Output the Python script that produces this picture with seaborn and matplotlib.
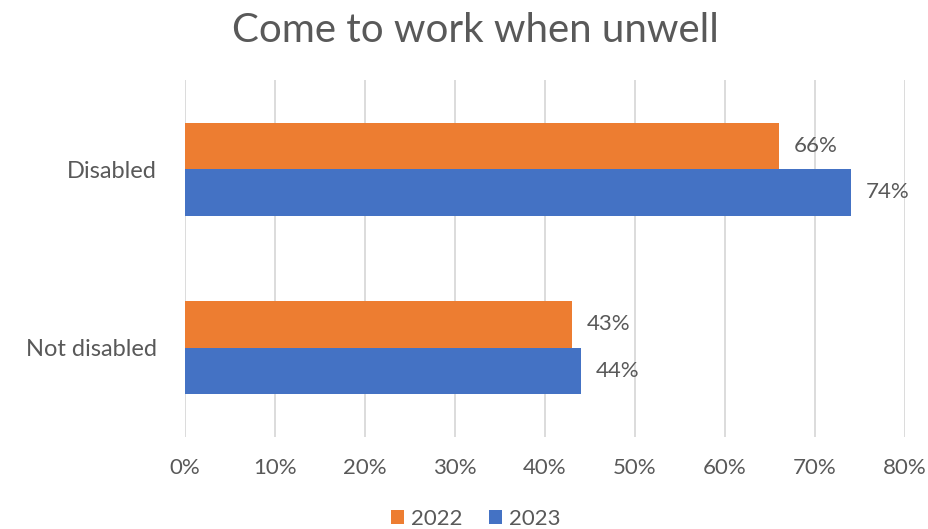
import matplotlib
matplotlib.use("Agg")
import matplotlib.pyplot as plt
import seaborn as sns
import pandas as pd

categories = ["Disabled", "Not disabled"]
years = ["2022", "2023"]
values_2022 = [66, 43]
values_2023 = [74, 44]
x_ticks = [0, 10, 20, 30, 40, 50, 60, 70, 80]

colors = {"2022": "#ED7D31", "2023": "#4472C4"}
text_color = "#595959"

df = pd.DataFrame({
    "category": categories * 2,
    "year": [years[0]] * len(categories) + [years[1]] * len(categories),
    "value": values_2022 + values_2023,
})

sns.set_theme(style="white")
plt.rcParams["font.family"] = ["Lato", "DejaVu Sans"]

fig = plt.figure(figsize=(9.29, 5.29), dpi=100)
ax = fig.add_axes([0.199, 0.174, 0.775, 0.675])

sns.barplot(data=df, y="category", x="value", hue="year", orient="h",
            palette=colors, width=0.52, ax=ax, saturation=1, legend=True,
            edgecolor="none", linewidth=0)

ax.set_xlim(0, 80)
ax.set_ylim(1.5, -0.5)
ax.set_xticks(x_ticks)
ax.set_xticklabels([f"{t}%" for t in x_ticks], color=text_color, fontsize=16)
ax.tick_params(axis="y", labelsize=17, labelcolor=text_color, length=0, pad=20)
ax.tick_params(axis="x", length=0, pad=15)
ax.set_xlabel("")
ax.set_ylabel("")
ax.grid(axis="x", color="#D9D9D9", linewidth=1.3)
ax.set_axisbelow(True)
for s in ax.spines.values():
    s.set_visible(False)

for container in ax.containers:
    ax.bar_label(container, labels=[f"{v:.0f}%" for v in container.datavalues],
                 padding=11, fontsize=16, color=text_color)

fig.suptitle("Come to work when unwell", x=0.512, y=0.978, fontsize=29,
             color=text_color)

handles, labels = ax.get_legend_handles_labels()
ax.legend_.remove()
fig.legend(handles, labels, loc="lower center", ncol=2, frameon=False,
           bbox_to_anchor=(0.512, -0.037), fontsize=16, handlelength=0.6,
           handleheight=0.6, handletextpad=0.3, columnspacing=1.2,
           labelcolor=text_color)

fig.savefig("out.png", dpi=100)
